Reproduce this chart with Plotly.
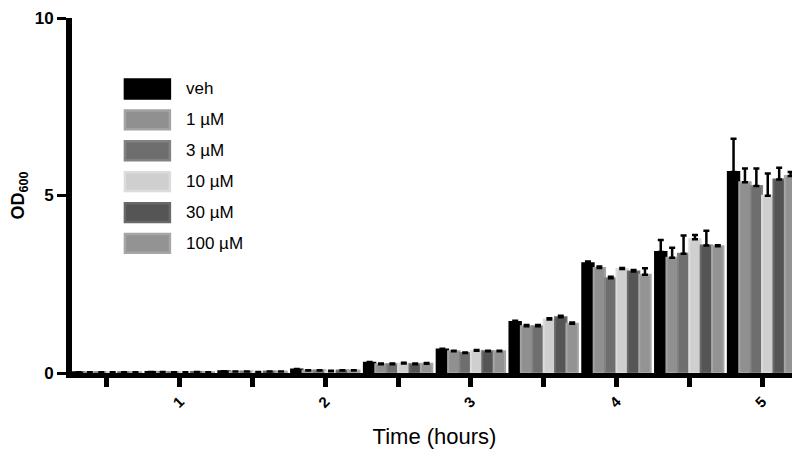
import plotly.graph_objs as go

# time points (hours) and OD600 means / upward SEM per treatment
time_h = [0.5, 1, 1.5, 2, 2.5, 3, 3.5, 4, 4.5, 5]
groups = ['veh', '1 µM', '3 µM', '10 µM', '30 µM', '100 µM']

veh = [0.02, 0.03, 0.05, 0.10, 0.29, 0.66, 1.44, 3.09, 3.41, 5.66]
um1 = [0.02, 0.03, 0.04, 0.07, 0.25, 0.61, 1.32, 2.96, 3.25, 5.37]
um3 = [0.02, 0.02, 0.04, 0.07, 0.25, 0.56, 1.32, 2.67, 3.36, 5.27]
um10 = [0.02, 0.02, 0.03, 0.05, 0.27, 0.63, 1.51, 2.93, 3.77, 4.99]
um30 = [0.02, 0.03, 0.04, 0.07, 0.25, 0.61, 1.57, 2.86, 3.59, 5.45]
um100 = [0.02, 0.02, 0.04, 0.07, 0.26, 0.61, 1.39, 2.77, 3.57, 5.55]

veh_err = [0.0, 0.0, 0.0, 0.01, 0.02, 0.02, 0.03, 0.05, 0.34, 0.94]
um1_err = [0.0, 0.0, 0.0, 0.01, 0.02, 0.02, 0.03, 0.04, 0.28, 0.39]
um3_err = [0.0, 0.0, 0.0, 0.01, 0.02, 0.02, 0.03, 0.04, 0.51, 0.49]
um10_err = [0.0, 0.0, 0.0, 0.01, 0.02, 0.02, 0.03, 0.03, 0.12, 0.63]
um30_err = [0.0, 0.0, 0.0, 0.01, 0.02, 0.02, 0.04, 0.04, 0.42, 0.33]
um100_err = [0.0, 0.0, 0.0, 0.01, 0.02, 0.02, 0.03, 0.18, 0.03, 0.11]

tick_vals = time_h
tick_text = ['', '<b>1</b>', '', '<b>2</b>', '', '<b>3</b>', '', '<b>4</b>', '', '<b>5</b>']
y_ticks = [0, 5, 10]
y_text = ['<b>0</b>', '<b>5</b>', '<b>10</b>']

fills = ['#000000', '#909090', '#6e6e6e', '#cfcfcf', '#555555', '#939393']
edges = ['#000000', '#a3a3a3', '#828282', '#dcdcdc', '#686868', '#a6a6a6']

values = [veh, um1, um3, um10, um30, um100]
errors = [veh_err, um1_err, um3_err, um10_err, um30_err, um100_err]

fig = go.Figure()
for name, vals, errs, fc, ec in zip(groups, values, errors, fills, edges):
    fig.add_trace(go.Bar(
        x=time_h, y=vals, name=name,
        marker=dict(color=fc, line=dict(color=ec, width=2)),
        error_y=dict(type='data', array=errs, arrayminus=[0] * len(errs),
                     symmetric=False, color='black', thickness=2.5, width=3),
        showlegend=False
    ))

# hand-made legend with large swatches like the original figure
left, right = 0.073, 0.135
row_top = 0.80
row_step = 0.087
sw_h = 0.053
for i, (name, fc, ec) in enumerate(zip(groups, fills, edges)):
    yc = row_top - i * row_step
    fig.add_shape(type='rect', xref='paper', yref='paper',
                  x0=left, x1=right, y0=yc - sw_h / 2, y1=yc + sw_h / 2,
                  fillcolor=fc, line=dict(color=ec, width=2.5))
    fig.add_annotation(x=right + 0.02, y=yc, xref='paper', yref='paper',
                       text=name, showarrow=False, xanchor='left', yanchor='middle',
                       font=dict(family='Liberation Sans, Arial', size=17, color='black'))

# page body has an 8px margin, so the figure is sized/offset to compensate
fig.update_layout(
    width=792, height=454,
    margin=dict(l=64, r=3, t=10, b=89),
    plot_bgcolor='white', paper_bgcolor='white',
    barmode='group', bargap=0.06, bargroupgap=0,
    font=dict(family='Liberation Sans, Arial', color='black'),
)
fig.update_xaxes(
    range=[0.26, 5.24], tickvals=tick_vals, ticktext=tick_text,
    ticks='outside', ticklen=9, tickwidth=5, tickcolor='black',
    tickangle=-45, tickfont=dict(size=15, family='Liberation Sans, Arial'),
    showline=True, linewidth=5, linecolor='black', showgrid=False, zeroline=False,
    automargin=False,
    title=dict(text='Time (hours)', font=dict(size=22), standoff=20)
)
fig.update_yaxes(
    range=[0, 10], tickvals=y_ticks, ticktext=y_text,
    ticks='outside', ticklen=9, tickwidth=3, tickcolor='black',
    tickfont=dict(size=17, family='Liberation Sans, Arial'),
    ticklabeloverflow='allow',
    showline=True, linewidth=6, linecolor='black', showgrid=False, zeroline=False,
    automargin=False,
    title=dict(text='<b>OD<sub>600</sub></b>', font=dict(size=18), standoff=22)
)

fig.write_html("out.html")
